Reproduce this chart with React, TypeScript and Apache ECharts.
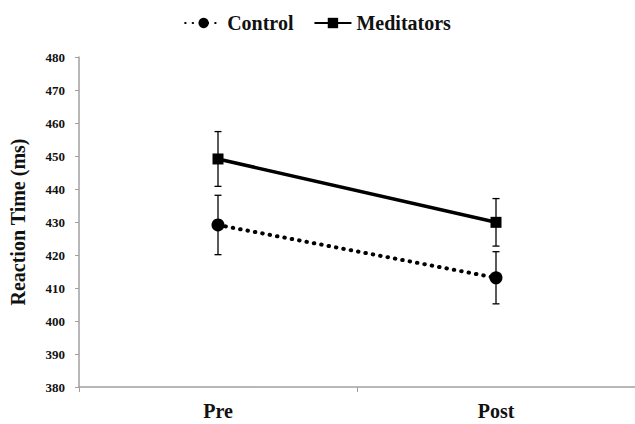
import React, { useEffect, useRef } from "react";
import * as echarts from "echarts";

const categories = ["Pre", "Post"];
const controlValues = [429.1, 413.1];
const controlErrors = [9.0, 7.9];
const meditatorValues = [449.1, 429.9];
const meditatorErrors = [8.3, 7.2];
const yTicks = { min: 380, max: 480, interval: 10 };

const FONT = "Times New Roman";

function errorData(values: number[], errs: number[]) {
  return values.map((v, i) => [i, v - errs[i], v + errs[i]]);
}

const renderErr = (params: any, api: any) => {
  const x = api.value(0);
  const lo = api.coord([x, api.value(1)]);
  const hi = api.coord([x, api.value(2)]);
  const hw = 3.5;
  const style = { stroke: "#000", lineWidth: 1.3 };
  return {
    type: "group",
    children: [
      { type: "line", shape: { x1: lo[0], y1: lo[1], x2: hi[0], y2: hi[1] }, style },
      { type: "line", shape: { x1: lo[0] - hw, y1: lo[1], x2: lo[0] + hw, y2: lo[1] }, style },
      { type: "line", shape: { x1: hi[0] - hw, y1: hi[1], x2: hi[0] + hw, y2: hi[1] }, style },
    ],
  };
};

export default function App() {
  const ref = useRef<HTMLDivElement>(null);
  useEffect(() => {
    if (!ref.current) return;
    const chart = echarts.init(ref.current, undefined, { renderer: "svg" });
    const axisColor = "#a0a0a0";
    chart.setOption({
      animation: false,
      backgroundColor: "#fff",
      textStyle: { fontFamily: FONT },
      legend: {
        top: 8,
        left: "center",
        itemWidth: 37,
        itemHeight: 13,
        itemGap: 20,
        textStyle: { fontFamily: FONT, fontWeight: "bold", fontSize: 20, color: "#111" },
        data: ["Control", "Meditators"],
      },
      grid: { left: 71, right: -4, top: 57, bottom: 37 },
      xAxis: {
        type: "category",
        data: categories,
        boundaryGap: true,
        axisLine: { lineStyle: { color: axisColor, width: 1.5 } },
        axisTick: { show: true, length: 5, lineStyle: { color: axisColor } },
        axisLabel: {
          fontFamily: FONT,
          fontWeight: "bold",
          fontSize: 20,
          color: "#111",
          margin: 14,
        },
      },
      yAxis: {
        type: "value",
        min: yTicks.min,
        max: yTicks.max,
        interval: yTicks.interval,
        name: "Reaction Time (ms)",
        nameLocation: "middle",
        nameRotate: 90,
        nameGap: 51,
        nameTextStyle: { fontFamily: FONT, fontWeight: "bold", fontSize: 20, color: "#111" },
        splitLine: { show: false },
        axisLine: { show: true, lineStyle: { color: axisColor, width: 1.5 } },
        axisTick: { show: true, length: 4, lineStyle: { color: axisColor } },
        axisLabel: {
          fontFamily: FONT,
          fontWeight: "bold",
          fontSize: 13,
          color: "#111",
          margin: 14,
        },
      },
      series: [
        {
          name: "ControlErr",
          type: "custom",
          renderItem: renderErr,
          data: errorData(controlValues, controlErrors),
          z: 1,
          silent: true,
        },
        {
          name: "MeditatorsErr",
          type: "custom",
          renderItem: renderErr,
          data: errorData(meditatorValues, meditatorErrors),
          z: 1,
          silent: true,
        },
        {
          name: "Control",
          type: "line",
          data: controlValues,
          symbol: "circle",
          symbolSize: 13,
          itemStyle: { color: "#000" },
          lineStyle: { color: "#000", width: 4, type: [0.5, 7], cap: "round" },
          z: 3,
        },
        {
          name: "Meditators",
          type: "line",
          data: meditatorValues,
          symbol: "rect",
          symbolSize: 11,
          itemStyle: { color: "#000" },
          lineStyle: { color: "#000", width: 3.5 },
          z: 3,
        },
      ],
    });
    return () => chart.dispose();
  }, []);
  return <div ref={ref} style={{ width: 635, height: 424, position: "absolute", left: 0, top: 0 }} />;
}
